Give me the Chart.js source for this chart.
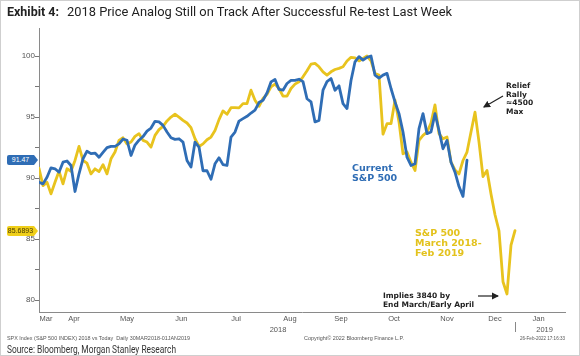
<!DOCTYPE html>
<html><head><meta charset="utf-8">
<script src="https://cdn.jsdelivr.net/npm/chart.js@4.4.1/dist/chart.umd.min.js"></script>
<style>
html,body{margin:0;padding:0;background:#fff;}
#wrap{position:relative;width:580px;height:356px;overflow:hidden;background:#fff;}
#frame{position:absolute;left:0;top:0;width:578px;height:354px;border:1px solid #cfcfcf;pointer-events:none;}
canvas{position:absolute;left:0;top:0;}
.t{position:absolute;white-space:nowrap;transform-origin:0 50%;line-height:1;}
.ann{position:absolute;white-space:nowrap;font-family:'DejaVu Sans',sans-serif;font-weight:bold;}
.tag{position:absolute;left:7px;width:27px;height:10px;font:7px 'Liberation Sans',sans-serif;line-height:10px;text-align:center;border-radius:2px 0 0 2px;}
.tag::after{content:'';position:absolute;right:-4px;top:0;border-top:5px solid transparent;border-bottom:5px solid transparent;}
#tagBlue{background:#2f6db5;color:#fff;}
#tagBlue::after{border-left:4px solid #2f6db5;}
#tagGold{background:#f0cf1a;color:#4a3c00;}
#tagGold::after{border-left:4px solid #f0cf1a;}
svg{position:absolute;left:0;top:0;}
</style>
</head><body>
<div id="wrap">
<canvas id="c" width="580" height="356"></canvas>
<div class="t" data-w="52" style="left:7px;top:4px;font:bold 12.5px Roboto,sans-serif;color:#222;">Exhibit 4:</div>
<div class="t" data-w="385" style="left:67px;top:4px;font:12.5px Roboto,sans-serif;color:#222;">2018 Price Analog Still on Track After Successful Re-test Last Week</div>

<div class="ann" style="left:352px;top:163px;font-size:9.5px;line-height:10px;color:#2f6db5;">Current<br>S&amp;P 500</div>
<div class="ann" style="left:415px;top:228px;font-size:9.5px;line-height:10px;color:#e3c21c;">S&amp;P 500<br>March 2018-<br>Feb 2019</div>
<div class="ann" style="left:506px;top:82px;font-size:7.5px;line-height:8.7px;color:#222;">Relief<br>Rally<br>≈4500<br>Max</div>
<div class="ann" style="left:383px;top:290.5px;font-size:7.5px;line-height:9.5px;color:#222;">Implies 3840 by<br>End March/Early April</div>

<svg width="580" height="356">
  <defs><marker id="ah" markerWidth="6" markerHeight="6" refX="5" refY="3" orient="auto"><path d="M0,0 L6,3 L0,6 z" fill="#222"/></marker></defs>
  <line x1="503" y1="96" x2="484" y2="107" stroke="#222" stroke-width="1.2" marker-end="url(#ah)"/>
  <line x1="478" y1="296" x2="498" y2="296" stroke="#222" stroke-width="1.2" marker-end="url(#ah)"/>
</svg>

<div id="tagBlue" class="tag"></div>
<div id="tagGold" class="tag"></div>
<div id="years"></div>

<div class="t" data-w="183" style="left:7px;top:335px;font:5px 'Liberation Sans',sans-serif;color:#555;">SPX Index (S&amp;P 500 INDEX) 2018 vs Today&nbsp; Daily 30MAR2018-01JAN2019</div>
<div class="t" data-w="100" style="left:304px;top:335px;font:5px 'Liberation Sans',sans-serif;color:#555;">Copyright© 2022 Bloomberg Finance L.P.</div>
<div class="t" data-w="45" style="left:520px;top:335px;font:5px 'Liberation Sans',sans-serif;color:#555;">26-Feb-2022 17:16:33</div>
<div class="t" data-w="169" style="left:7px;top:343px;font:10.5px Roboto,sans-serif;color:#333;">Source: Bloomberg, Morgan Stanley Research</div>
<div id="frame"></div>
</div>
<script>
// Current S&P 500 (indexed, peak = 100), one value per sample step
const blueCurrent = [89.65, 89.52, 90.07, 90.84, 90.76, 90.48, 91.3, 91.4, 91.03, 88.9,
 90.35, 91.58, 92.2, 92.0, 92.05, 91.7, 92.1, 92.5, 92.6, 92.6,
 92.8, 93.2, 93.1, 91.85, 92.7, 93.1, 93.4, 93.85, 94.1, 94.65,
 94.6, 94.32, 93.77, 93.3, 93.17, 93.22, 92.95, 91.44, 90.9, 92.95,
 92.54, 90.6, 90.6, 89.9, 91.17, 91.66, 91.1, 91.03, 93.36, 93.77,
 94.67, 94.87, 95.06, 95.33, 95.56, 96.19, 96.38, 96.98, 97.88, 98.08,
 97.26, 97.2, 97.75, 98.0, 98.0, 98.1, 97.9, 96.5, 96.25, 94.6,
 94.73, 97.2, 97.9, 98.16, 97.2, 97.56, 96.1, 95.7, 98.0, 99.53,
 99.95, 99.67, 99.89, 100.0, 98.44, 98.2, 98.44, 98.58, 97.34, 96.24,
 95.28, 93.77, 91.71, 91.03, 91.17, 94.05, 95.28, 93.64, 93.77, 95.28,
 93.9, 92.4, 93.09, 91.3, 90.48, 89.3, 88.5, 91.47];

// S&P 500 March 2018 - Feb 2019 analog (indexed, peak = 100)
const yellow2018 = [90.8, 89.38, 89.65, 88.7, 89.65, 90.56, 89.52, 90.76, 90.56, 91.44,
 92.59, 91.44, 91.22, 90.34, 90.76, 90.53, 91.1, 90.34, 91.58, 92.13,
 93.09, 93.3, 92.8, 92.95, 93.42, 93.64, 93.09, 92.95, 92.54, 93.5,
 93.97, 94.24, 94.68, 95.0, 95.23, 95.0, 94.73, 94.51, 94.13, 93.22,
 92.59, 92.8, 93.14, 93.36, 93.9, 94.79, 95.5, 95.23, 95.77, 95.77,
 95.75, 96.1, 96.1, 97.2, 96.38, 95.88, 96.52, 96.87, 97.47, 97.7,
 97.34, 96.71, 96.71, 97.34, 97.7, 97.89, 98.3, 98.79, 99.34, 99.4,
 99.12, 98.71, 98.44, 98.71, 98.9, 98.99, 99.12, 99.6, 99.9, 99.85,
 99.6, 99.8, 100.0, 99.6, 98.57, 98.44, 93.6, 94.46, 94.46, 96.38,
 94.6, 91.99, 92.13, 91.3, 90.62, 93.09, 93.5, 93.77, 94.5, 96.0,
 93.64, 93.22, 93.36, 91.3, 90.67, 90.34, 91.44, 92.13, 93.77, 95.4,
 92.95, 90.12, 90.62, 88.7, 86.99, 85.68, 81.5, 80.5, 84.5, 85.6893];

const monthLabels = ['Mar','Apr','May','Jun','Jul','Aug','Sep','Oct','Nov','Dec','Jan'];
const monthTickAt = [1.75, 8.75, 22, 35.6, 49.25, 62.75, 75.5, 88.75, 102, 114, 124.9];
const yearLabels = ['2018','2019'];
const yearTickAt = [59.75, 126.4];
const yearBreakAt = 119;
const yTickValues = [80, 82.5, 85, 87.5, 90, 92.5, 95, 97.5, 100];

const BLUE = '#2f6db5', GOLD = '#e8c31e';

const chart = new Chart(document.getElementById('c'), {
  type: 'line',
  data: { datasets: [
    { label: 'Current S&P 500', data: blueCurrent.map((v,i)=>({x:i,y:v})), borderColor: BLUE,
      borderWidth: 2.8, pointRadius: 0, tension: 0, borderJoinStyle: 'round', borderCapStyle: 'round' },
    { label: 'S&P 500 March 2018-Feb 2019', data: yellow2018.map((v,i)=>({x:i,y:v})), borderColor: GOLD,
      borderWidth: 2.8, pointRadius: 0, tension: 0, borderJoinStyle: 'round', borderCapStyle: 'round' }
  ]},
  options: {
    responsive: false, animation: false, events: [],
    layout: { padding: { left: 0, top: 28, right: 15, bottom: 0 } },
    plugins: { legend: { display: false }, tooltip: { enabled: false } },
    scales: {
      x: { type: 'linear', min: 0, max: 131.5,
        afterBuildTicks: s => { s.ticks = monthTickAt.map(v => ({ value: v })); },
        afterFit: s => { s.height = 44; },
        ticks: { autoSkip: false, maxRotation: 0, callback: (v, i) => monthLabels[i],
          font: { family: 'Liberation Sans', size: 7.5 }, color: '#555', padding: 2 },
        grid: { drawOnChartArea: false, drawTicks: false },
        border: { color: '#8a8a8a' } },
      y: { min: 79.02, max: 102.3,
        afterBuildTicks: s => { s.ticks = yTickValues.map(v => ({ value: v })); },
        afterFit: s => { s.width = 39; },
        ticks: { autoSkip: false, callback: v => (v % 5 === 0 ? String(v) : ''),
          font: { family: 'Liberation Sans', size: 8 }, color: '#555', padding: 0 },
        grid: { drawOnChartArea: false, tickLength: 4, color: '#777' },
        border: { color: '#8a8a8a' } }
    }
  }
});

// value tags on the y axis
const ys = chart.scales.y, xs = chart.scales.x;
const tb = document.getElementById('tagBlue');
tb.textContent = blueCurrent[blueCurrent.length-1].toFixed(2);
tb.style.top = (ys.getPixelForValue(blueCurrent[blueCurrent.length-1]) - 5) + 'px';
const tg = document.getElementById('tagGold');
tg.textContent = String(yellow2018[yellow2018.length-1]);
tg.style.top = (ys.getPixelForValue(yellow2018[yellow2018.length-1]) - 5) + 'px';

// year labels and break
const yearsDiv = document.getElementById('years');
yearLabels.forEach((lab, i) => {
  const d = document.createElement('div');
  d.className = 't';
  d.textContent = lab;
  d.style.cssText = 'font:7.5px "Liberation Sans",sans-serif;color:#555;top:325px;';
  yearsDiv.appendChild(d);
  const w = d.getBoundingClientRect().width;
  d.style.left = (xs.getPixelForValue(yearTickAt[i]) - w/2) + 'px';
});
const br = document.createElement('div');
br.style.cssText = 'position:absolute;width:1px;height:10px;background:#888;top:322px;left:' + Math.round(xs.getPixelForValue(yearBreakAt)) + 'px;';
yearsDiv.appendChild(br);

// fit text widths
document.querySelectorAll('[data-w]').forEach(el => {
  const w = +el.dataset.w, r = el.getBoundingClientRect().width;
  if (r > 0) el.style.transform = 'scaleX(' + (w / r) + ')';
});
</script>
</body></html>
